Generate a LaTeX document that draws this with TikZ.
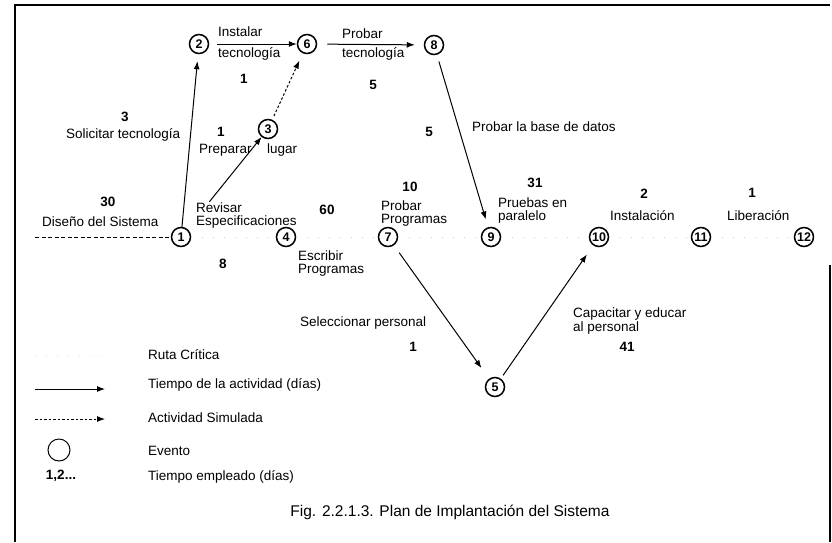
\documentclass[tikz,border=0pt]{standalone}
\usepackage{fontspec}
\setmainfont{Liberation Sans}
\usepackage{xcolor}
\usepackage{tikz}
\usetikzlibrary{arrows.meta}

\tikzset{
  evento/.style={circle, draw, line width=1.5pt, minimum size=19pt, inner sep=0pt, font=\fontsize{12.5}{12}\selectfont\bfseries},
  etiq/.style={draw=none, anchor=west, align=left, inner sep=0pt, font=\fontsize{13.5}{13}\selectfont},
  dias/.style={draw=none, inner sep=0pt, font=\fontsize{13.5}{14}\selectfont\bfseries},
  actividad/.style={-{Latex[length=8pt,width=6pt]}, line width=1pt},
  simulada/.style={-{Latex[length=8pt,width=6pt]}, line width=1pt, dash pattern=on 2.5pt off 2pt},
  ruta/.style={gray!35, line width=0.8pt, dash pattern=on 1pt off 10pt},
}

\begin{document}
\begin{tikzpicture}[x=1pt, y=-1pt]
             \useasboundingbox (0,0) rectangle (832,542);
             \draw[line width=1.2pt] (15,542) -- (15,5) -- (830,5);
             \draw[line width=1.2pt] (830,265) -- (830,542);

             \node[evento] (e1) at (181,237) {1};
             \node[evento] (e2) at (199,44) {2};
             \node[evento] (e3) at (268,129) {3};
             \node[evento] (e4) at (286,237) {4};
             \node[evento] (e5) at (495,387) {5};
             \node[evento] (e6) at (307,44) {6};
             \node[evento] (e7) at (388,237) {7};
             \node[evento] (e8) at (434,45) {8};
             \node[evento] (e9) at (491,237) {9};
             \node[evento] (e10) at (599,237) {10};
             \node[evento] (e11) at (701,237) {11};
             \node[evento] (e12) at (804,237) {12};

             \coordinate (inicio) at (35,237);
             \draw[line width=1pt, dash pattern=on 4pt off 2.5pt] (inicio) -- (e1);
             \draw[ruta] (e1) -- (e4);
             \draw[ruta] (e4) -- (e7);
             \draw[ruta] (e7) -- (e9);
             \draw[ruta] (e9) -- (e10);
             \draw[ruta] (e10) -- (e11);
             \draw[ruta] (e11) -- (e12);

             \draw[actividad, shorten >=7pt] (e1) -- (e2);
             \draw[actividad, shorten <=35pt] (e1) -- (e3);
             \draw[simulada, shorten <=4pt, shorten >=8pt] (e3) -- (e6);
             \draw[actividad, shorten <=8pt] (e2) -- (e6);
             \draw[actividad, shorten <=10pt, shorten >=9pt] (e6) -- (e8);
             \draw[actividad, shorten <=7pt, shorten >=8pt] (e8) -- (e9);
             \draw[actividad, shorten <=9pt, shorten >=13pt] (e7) -- (e5);
             \draw[actividad, shorten <=4pt, shorten >=11pt] (e5) -- (e10);

             \node[etiq] (t26a) at (218,32) {Instalar};
             \node[etiq] (t26b) at (218,54) {tecnología};
             \node[etiq] (t68a) at (342,34) {Probar};
             \node[etiq] (t68b) at (342,54) {tecnología};
             \node[etiq] (t12) at (66,135) {Solicitar tecnología};
             \node[etiq] (t13a) at (199,150) {Preparar};
             \node[etiq] (t13b) at (267,150) {lugar};
             \node[etiq] (t89) at (472,127) {Probar la base de datos};
             \node[etiq] (t01) at (42,222) {Diseño del Sistema};
             \node[etiq] (t14) at (196,215.5) {Revisar\\Especificaciones};
             \node[etiq] (t79) at (381,213.5) {Probar\\Programas};
             \node[etiq] (t910) at (498,210.5) {Pruebas en\\paralelo};
             \node[etiq] (t1011) at (610,216) {Instalación};
             \node[etiq] (t1112) at (727,216) {Liberación};
             \node[etiq] (t47) at (298,263.5) {Escribir\\Programas};
             \node[etiq] (t75) at (300,323) {Seleccionar personal};
             \node[etiq, font=\fontsize{13.5}{12}\selectfont] (t510) at (573,321) {Capacitar y educar\\al personal};

             \node[dias] (d26) at (244,79) {1};
             \node[dias] (d68) at (373,85) {5};
             \node[dias] (d12) at (125,117) {3};
             \node[dias] (d13) at (221,132) {1};
             \node[dias] (d89) at (429,132) {5};
             \node[dias] (d01) at (108,202) {30};
             \node[dias] (d47) at (327,210) {60};
             \node[dias] (d79) at (410,187) {10};
             \node[dias] (d910) at (535,183) {31};
             \node[dias] (d1011) at (644,194) {2};
             \node[dias] (d1112) at (752,193) {1};
             \node[dias] (d14) at (223,264) {8};
             \node[dias] (d75) at (413,347) {1};
             \node[dias] (d510) at (627,347) {41};

             \coordinate (lr1) at (35,355);
             \coordinate (lr2) at (105,355);
             \draw[ruta, gray!20] (lr1) -- (lr2);
             \coordinate (la1) at (35,389);
             \coordinate (la2) at (105,389);
             \draw[actividad] (la1) -- (la2);
             \coordinate (ls1) at (35,419);
             \coordinate (ls2) at (105,419);
             \draw[simulada] (ls1) -- (ls2);
             \node[circle, draw, line width=1pt, minimum size=22pt] (lev) at (59,450) {};
             \node[dias] (lnum) at (61,476) {1,2...};

             \node[etiq] (lt1) at (148,355) {Ruta Crítica};
             \node[etiq] (lt2) at (148,385) {Tiempo de la actividad (días)};
             \node[etiq] (lt3) at (148,418) {Actividad Simulada};
             \node[etiq] (lt4) at (148,451) {Evento};
             \node[etiq] (lt5) at (148,477) {Tiempo empleado (días)};

             \node[draw=none, font=\fontsize{15.5}{16}\selectfont] (fig) at (450,512) {Fig. 2.2.1.3. Plan de Implantación del Sistema};
\end{tikzpicture}
\end{document}
